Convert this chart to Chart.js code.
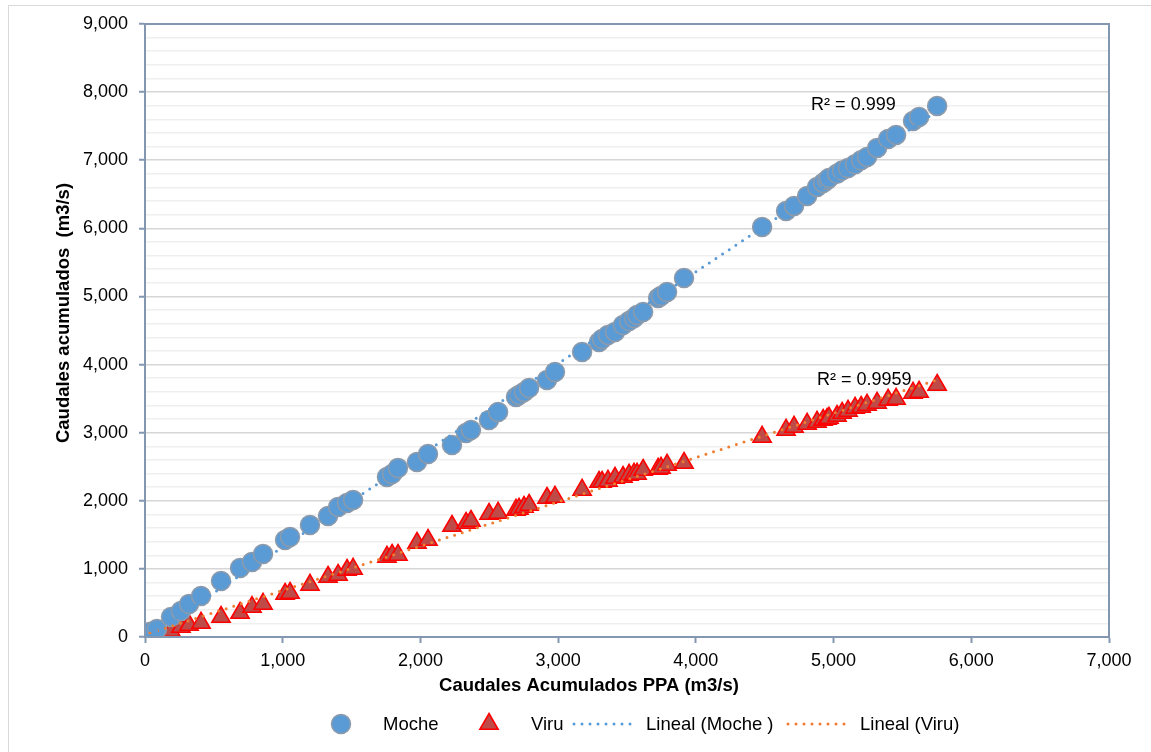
<!DOCTYPE html>
<html>
<head>
<meta charset="utf-8">
<script src="https://cdn.jsdelivr.net/npm/chart.js@4.4.1/dist/chart.umd.min.js"></script>
<style>
  html, body { margin: 0; padding: 0; background: #fff; }
  #wrap { width: 1151px; height: 752px; position: relative; }
  canvas { display: block; }
</style>
</head>
<body>
<div id="wrap"><canvas id="c" width="1151" height="752"></canvas></div>
<script>
// Caudales acumulados PPA (m3/s) — shared x values for both basins
const ppa = [36, 87, 189, 261, 320, 407, 552, 690, 777, 857, 1017, 1053, 1198, 1329, 1402, 1467, 1511,
  1757, 1794, 1837, 1975, 2055,
  2229, 2331, 2367, 2498, 2564, 2694, 2716, 2752, 2789, 2919, 2977,
  3174, 3297, 3319, 3362, 3413, 3471, 3515, 3551, 3573, 3617, 3726, 3747, 3791, 3914,
  4481, 4655, 4713, 4808, 4880, 4924, 4953, 4967, 5025, 5062, 5105, 5156, 5200, 5243, 5316, 5396, 5454, 5577, 5621, 5752];

// Caudales acumulados, río Moche (m3/s)
const moche = [73, 117, 294, 382, 485, 602, 822, 1013, 1101, 1219, 1424, 1468, 1645, 1777, 1909, 1968, 2010,
  2350, 2394, 2482, 2570, 2687,
  2819, 2996, 3040, 3186, 3304, 3524, 3554, 3598, 3656, 3774, 3891,
  4185, 4332, 4376, 4435, 4479, 4581, 4640, 4684, 4728, 4772, 4978, 5007, 5066, 5272,
  6021, 6256, 6329, 6476, 6608, 6667, 6710, 6740, 6800, 6850, 6887, 6940, 7000, 7048, 7181, 7313, 7372, 7577, 7636, 7797];

// Caudales acumulados, río Virú (m3/s)
const viru = [15, 59, 88, 147, 176, 206, 294, 352, 440, 485, 631, 646, 764, 881, 910, 984, 999,
  1175, 1204, 1204, 1380, 1424,
  1630, 1674, 1703, 1806, 1821, 1865, 1880, 1909, 1938, 2041, 2056,
  2159, 2276, 2276, 2291, 2335, 2349, 2379, 2394, 2394, 2452, 2467, 2482, 2526, 2555,
  2937, 3040, 3084, 3128, 3157, 3186, 3201, 3216, 3245, 3289, 3319, 3363, 3377, 3407, 3436, 3480, 3495, 3583, 3598, 3700];

const seriesNames = ['Moche', 'Viru', 'Lineal (Moche )', 'Lineal (Viru)'];
const r2Labels = ['R² = 0.999', 'R² = 0.9959'];
const xTickValues = [0, 1000, 2000, 3000, 4000, 5000, 6000, 7000];
const yTickValues = [0, 1000, 2000, 3000, 4000, 5000, 6000, 7000, 8000, 9000];

const BLUE = '#5b9bd5';
const ORANGE = '#ed7d31';
const AXIS = '#8497b0';
const FONT = '"Liberation Sans", Arial, sans-serif';

// least-squares line through the points, spanning the x range of the data
function linearFit(xs, ys) {
  const n = xs.length;
  let sx = 0, sy = 0, sxx = 0, sxy = 0;
  for (let i = 0; i < n; i++) { sx += xs[i]; sy += ys[i]; sxx += xs[i] * xs[i]; sxy += xs[i] * ys[i]; }
  const b = (n * sxy - sx * sy) / (n * sxx - sx * sx);
  const a = (sy - b * sx) / n;
  const x0 = Math.min(...xs), x1 = Math.max(...xs);
  return [{ x: x0, y: a + b * x0 }, { x: x1, y: a + b * x1 }];
}

const pts = ys => ppa.map((x, i) => ({ x, y: ys[i] }));
const fmt = v => Number(v).toLocaleString('en-US');

const mocheStyle = { pointStyle: 'circle', radius: 9.5, fill: BLUE, stroke: '#8d9aaa', width: 1.5 };
const viruStyle = { pointStyle: 'triangle', radius: 10.5, fill: '#bf4b48', stroke: '#ff0000', width: 1.6 };

function drawMarker(ctx, s, x, y) {
  ctx.save();
  ctx.fillStyle = s.fill; ctx.strokeStyle = s.stroke; ctx.lineWidth = s.width;
  Chart.helpers.drawPoint(ctx, { pointStyle: s.pointStyle, radius: s.radius, rotation: 0, borderWidth: s.width }, x, y);
  ctx.restore();
}
function drawDotted(ctx, color, x0, x1, y) {
  ctx.save();
  ctx.strokeStyle = color; ctx.lineWidth = 3; ctx.lineCap = 'round';
  ctx.setLineDash([0, 8]);
  ctx.beginPath(); ctx.moveTo(x0, y); ctx.lineTo(x1, y); ctx.stroke();
  ctx.restore();
}

const framePlugin = {
  id: 'frame',
  beforeDraw(chart) {
    const ctx = chart.ctx;
    ctx.save();
    ctx.fillStyle = '#fff';
    ctx.fillRect(0, 0, chart.width, chart.height);
    ctx.strokeStyle = '#d9d9d9'; ctx.lineWidth = 1;
    ctx.strokeRect(8.5, 5.5, chart.width + 20, chart.height + 20);
    ctx.restore();
  },
  afterDraw(chart) {
    const ctx = chart.ctx, a = chart.chartArea;
    const xs = chart.scales.x, ys = chart.scales.y;
    ctx.save();
    // plot area outline
    ctx.strokeStyle = AXIS; ctx.lineWidth = 2;
    ctx.strokeRect(a.left, a.top, a.right - a.left, a.bottom - a.top);

    // R² labels
    ctx.fillStyle = '#000';
    ctx.font = '18px ' + FONT;
    ctx.textAlign = 'left'; ctx.textBaseline = 'middle';
    ctx.fillText(r2Labels[0], xs.getPixelForValue(4837), ys.getPixelForValue(7812));
    ctx.fillText(r2Labels[1], xs.getPixelForValue(4880), ys.getPixelForValue(3774));

    // axis titles
    ctx.font = 'bold 18.5px ' + FONT;
    ctx.textAlign = 'center';
    ctx.fillText('Caudales Acumulados PPA (m3/s)', 589, 686);
    ctx.save();
    ctx.translate(64, 313);
    ctx.rotate(-Math.PI / 2);
    ctx.fillText('Caudales acumulados  (m3/s)', 0, 0);
    ctx.restore();

    // legend: sample swatch followed by its label
    const ly = 724;
    ctx.font = '18.5px ' + FONT;
    ctx.textAlign = 'left';
    const sampleW = 64, gap = 10;
    const items = [
      { name: seriesNames[0], x: 309, draw: (cx) => drawMarker(ctx, mocheStyle, cx + sampleW / 2, ly) },
      { name: seriesNames[1], x: 457, draw: (cx) => drawMarker(ctx, viruStyle, cx + sampleW / 2, ly) },
      { name: seriesNames[2], x: 572, draw: (cx) => drawDotted(ctx, BLUE, cx + 2, cx + sampleW - 2, ly) },
      { name: seriesNames[3], x: 786, draw: (cx) => drawDotted(ctx, ORANGE, cx + 2, cx + sampleW - 2, ly) }
    ];
    items.forEach(it => {
      it.draw(it.x);
      ctx.fillStyle = '#000';
      ctx.fillText(it.name, it.x + sampleW + gap, ly + 1);
    });
    ctx.restore();
  }
};

new Chart(document.getElementById('c'), {
  type: 'scatter',
  data: {
    datasets: [
      {
        label: seriesNames[2], data: linearFit(ppa, moche), showLine: true, order: 0,
        borderColor: BLUE, borderWidth: 3, borderDash: [0, 8], borderCapStyle: 'round',
        pointRadius: 0, pointHoverRadius: 0, fill: false
      },
      {
        label: seriesNames[3], data: linearFit(ppa, viru), showLine: true, order: 0,
        borderColor: ORANGE, borderWidth: 3, borderDash: [0, 8], borderCapStyle: 'round',
        pointRadius: 0, pointHoverRadius: 0, fill: false
      },
      {
        label: seriesNames[0], data: pts(moche), order: 1,
        pointStyle: 'circle', pointRadius: mocheStyle.radius,
        backgroundColor: mocheStyle.fill, borderColor: mocheStyle.stroke, borderWidth: mocheStyle.width
      },
      {
        label: seriesNames[1], data: pts(viru), order: 2,
        pointStyle: 'triangle', pointRadius: viruStyle.radius,
        backgroundColor: viruStyle.fill, borderColor: viruStyle.stroke, borderWidth: viruStyle.width
      }
    ]
  },
  options: {
    responsive: false,
    animation: false,
    events: [],
    layout: { padding: { left: 0, right: 42, top: 24, bottom: 45 } },
    plugins: { legend: { display: false }, tooltip: { enabled: false } },
    scales: {
      x: {
        type: 'linear', min: 0, max: 7000,
        afterBuildTicks: s => { s.ticks = xTickValues.map(v => ({ value: v })); },
        afterFit: s => { s.height = 70; },
        border: { color: AXIS, width: 2 },
        grid: { drawOnChartArea: false, drawTicks: true, tickLength: 6, tickColor: AXIS, tickWidth: 2 },
        ticks: { color: '#000', font: { family: FONT, size: 18 }, padding: 7, callback: v => fmt(v), maxRotation: 0 }
      },
      y: {
        type: 'linear', min: 0, max: 9000,
        ticks: {
          stepSize: 200, autoSkip: false, color: '#000', font: { family: FONT, size: 18 }, padding: 11,
          callback: v => (yTickValues.includes(v) ? fmt(v) : '')
        },
        afterFit: s => { s.width = 145; },
        border: { color: AXIS, width: 2 },
        grid: {
          drawTicks: true, tickLength: 6, tickWidth: 2,
          color: c => (c.tick && c.tick.value % 1000 === 0 ? '#d6d6d6' : '#efefef'),
          lineWidth: 1.5,
          tickColor: c => (c.tick && c.tick.value % 1000 === 0 ? AXIS : 'rgba(0,0,0,0)')
        }
      }
    }
  },
  plugins: [framePlugin]
});
</script>
</body>
</html>
